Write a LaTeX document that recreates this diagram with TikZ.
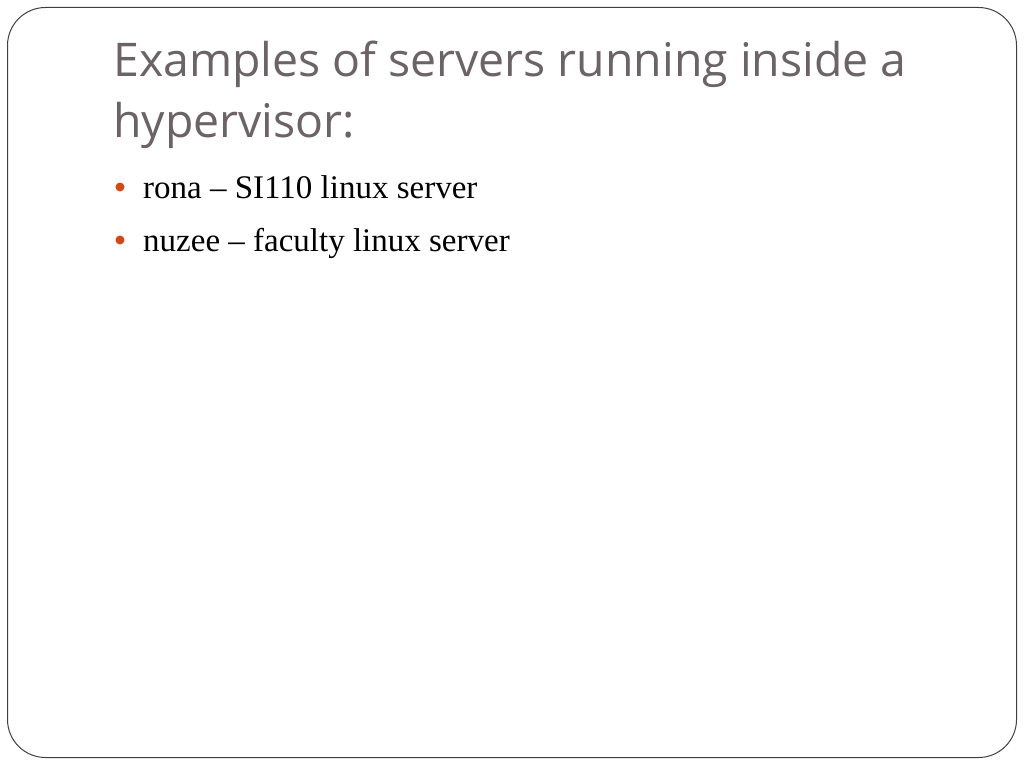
\documentclass[tikz,border=0pt]{standalone}
\usepackage{fontspec}
\newfontfamily\titlefont{Open Sans}
\newfontfamily\bodyfont{Liberation Serif}
\definecolor{titlegray}{HTML}{6B6366}
\definecolor{bulletorange}{HTML}{D34817}
\tikzset{
  titletext/.style={anchor=base west, inner sep=0pt, text=titlegray, font=\titlefont\fontsize{46.4}{55}\selectfont},
  bodytext/.style={anchor=base west, inner sep=0pt, text=black, font=\bodyfont\fontsize{33}{38}\selectfont},
  bulletdot/.style={circle, fill=bulletorange, inner sep=0pt, minimum size=9pt}
}
\begin{document}
\begin{tikzpicture}[x=1pt,y=-1pt]
\useasboundingbox (0,0) rectangle (1024,768);
\fill[white] (0,0) rectangle (1024,768);
\draw[line width=1pt, draw=black!75, rounded corners=38pt] (7.5,7.5) rectangle (1016.5,757.5);
\node[titletext] (t1) at (113,77) {Examples of servers running inside a};
\node[titletext] (t2) at (113,137) {hypervisor:};
\node[bulletdot] (b1) at (120,187) {};
\node[bodytext] (l1) at (143,198) {rona – SI110 linux server};
\node[bulletdot] (b2) at (120,240) {};
\node[bodytext] (l2) at (143,251) {nuzee – faculty linux server};
\end{tikzpicture}
\end{document}
